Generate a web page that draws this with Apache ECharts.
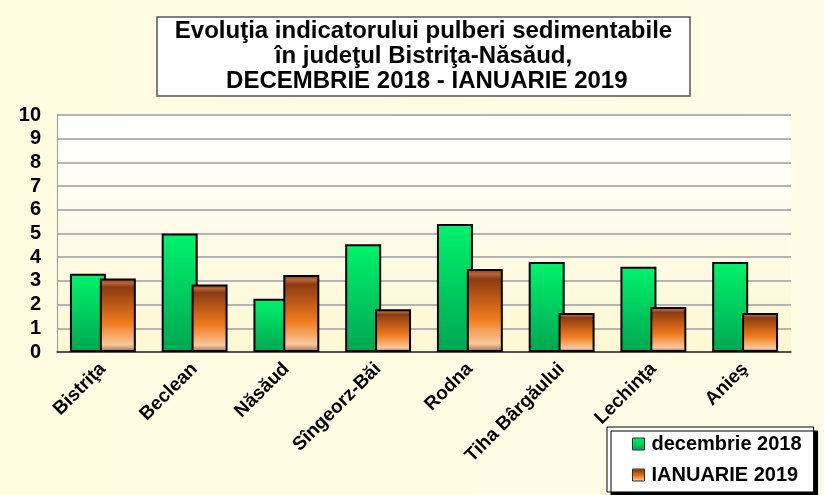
<!DOCTYPE html>
<html>
<head>
<meta charset="utf-8">
<script src="https://cdn.jsdelivr.net/npm/echarts@6/dist/echarts.min.js"></script>
<style>
html, body { margin: 0; padding: 0; background: #fff; }
#chart { width: 824px; height: 495px; }
</style>
</head>
<body>
<div id="chart"></div>
<script>
// localitati
var categorii = ['Bistriţa', 'Beclean', 'Năsăud', 'Sîngeorz-Băi', 'Rodna', 'Tiha Bârgăului', 'Lechinţa', 'Anieş'];
// valori
var decembrie2018 = [3.3, 5.0, 2.25, 4.55, 5.4, 3.8, 3.6, 3.8];
var ianuarie2019 = [3.1, 2.85, 3.25, 1.8, 3.5, 1.65, 1.9, 1.65];
var numeSerii = ['decembrie 2018', 'IANUARIE 2019'];
var titluRanduri = ['Evoluţia indicatorului pulberi sedimentabile', 'în judeţul Bistriţa-Năsăud,', ' DECEMBRIE 2018 - IANUARIE 2019'];

var font = '"Liberation Sans", Arial, sans-serif';

var verde = new echarts.graphic.LinearGradient(0, 0, 0, 1, [
	{ offset: 0, color: '#00f36c' },
	{ offset: 1, color: '#00a651' }
]);
var maro = new echarts.graphic.LinearGradient(0, 0, 0, 1, [
	{ offset: 0, color: '#8a3a14' },
	{ offset: 0.06, color: '#b8653a' },
	{ offset: 0.12, color: '#8c3c12' },
	{ offset: 0.6, color: '#f07a1c' },
	{ offset: 0.9, color: '#f8c89c' },
	{ offset: 1, color: '#9a6a50' }
]);

var chart = echarts.init(document.getElementById('chart'));
var option = {
	backgroundColor: new echarts.graphic.LinearGradient(0, 0, 1, 0, [
		{ offset: 0, color: '#fdfbe0' },
		{ offset: 1, color: '#fffde6' }
	]),
	animation: false,
	title: {
		// fiecare rand centrat in caseta
		text: titluRanduri.map(function (r) { return '{r|' + r + '}'; }).join('\n'),
		left: 157,
		top: 16,
		padding: [3, 8, 3, 8],
		backgroundColor: '#fff',
		borderColor: '#555',
		borderWidth: 1.5,
		textStyle: {
			rich: {
				r: {
					width: 517,
					align: 'center',
					fontFamily: font,
					fontSize: 24,
					fontWeight: 'bold',
					color: '#000',
					lineHeight: 25
				}
			}
		}
	},
	legend: {
		orient: 'vertical',
		left: 607,
		top: 427,
		padding: [7, 12, 7, 25],
		itemGap: 11,
		itemWidth: 12,
		itemHeight: 12,
		icon: 'rect',
		backgroundColor: '#fff',
		borderColor: '#000',
		borderWidth: 1,
		shadowColor: '#000',
		shadowOffsetX: 4,
		shadowOffsetY: 4,
		shadowBlur: 0,
		itemStyle: { borderColor: '#333', borderWidth: 1 },
		textStyle: { fontFamily: font, fontSize: 20, fontWeight: 'bold', color: '#000', padding: [0, 0, 0, 2] },
		data: numeSerii
	},
	grid: {
		left: 57,
		right: 33,
		top: 115,
		bottom: 143,
		show: true,
		borderWidth: 0,
		backgroundColor: new echarts.graphic.LinearGradient(0, 0, 0, 1, [
			{ offset: 0, color: '#ffffff' },
			{ offset: 1, color: '#fcf8d2' }
		])
	},
	xAxis: {
		type: 'category',
		data: categorii,
		axisTick: { show: false },
		axisLine: { lineStyle: { color: '#333', width: 1.5 } },
		axisLabel: {
			rotate: 45,
			interval: 0,
			margin: 14,
			fontFamily: font,
			fontSize: 19,
			fontWeight: 'bold',
			color: '#000'
		}
	},
	yAxis: {
		type: 'value',
		min: 0,
		max: 10,
		interval: 1,
		axisLine: { show: true, lineStyle: { color: '#999', width: 1 } },
		axisTick: { show: false },
		splitLine: { lineStyle: { color: '#b4b4b4', width: 2 } },
		axisLabel: {
			margin: 16,
			fontFamily: font,
			fontSize: 20,
			fontWeight: 'bold',
			color: '#000'
		}
	},
	series: [
		{
			name: numeSerii[0],
			type: 'bar',
			data: decembrie2018,
			barWidth: 36,
			barGap: '-17%',
			itemStyle: { color: verde, borderColor: '#000', borderWidth: 2 }
		},
		{
			name: numeSerii[1],
			type: 'bar',
			data: ianuarie2019,
			barWidth: 36,
			itemStyle: { color: maro, borderColor: '#000', borderWidth: 2 }
		}
	]
};
chart.setOption(option);
window.addEventListener('resize', function () {
	chart.resize();
});
</script>
</body>
</html>
